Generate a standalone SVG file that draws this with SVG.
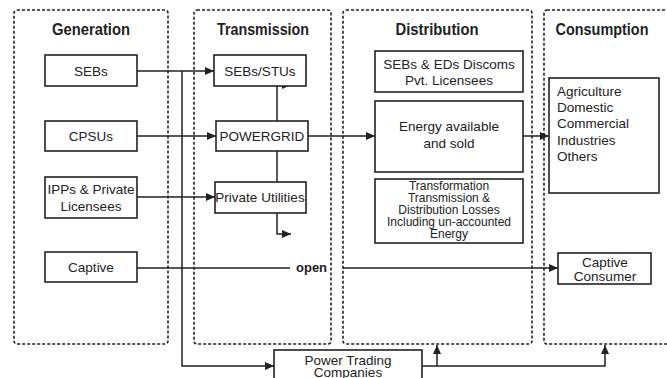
<svg xmlns="http://www.w3.org/2000/svg" width="667" height="378" viewBox="0 0 667 378">
<style>
.panel{fill:none;stroke:#222;stroke-width:1.6;stroke-dasharray:3 2}
.box{fill:#fff;stroke:#222;stroke-width:1.6}
.t{font-family:"Liberation Sans",Arial,sans-serif;font-size:13.5px;fill:#222;text-anchor:middle}
.s{font-family:"Liberation Sans",Arial,sans-serif;font-size:12px;fill:#222;text-anchor:middle}
.l{font-family:"Liberation Sans",Arial,sans-serif;font-size:13.5px;fill:#222}
.h{font-family:"Liberation Sans",Arial,sans-serif;font-size:17px;font-weight:bold;fill:#222;text-anchor:middle}
.c{fill:none;stroke:#222;stroke-width:1.5}
</style>
<defs>
<marker id="a" markerUnits="userSpaceOnUse" markerWidth="10" markerHeight="10" refX="9" refY="4" orient="auto">
<path d="M0,0 L9,4 L0,8 Z" fill="#222"/>
</marker>
</defs>
<g id="panels">
<rect class="panel" x="14" y="10" width="154" height="334" rx="3"/>
<rect class="panel" x="194" y="10" width="137" height="334" rx="3"/>
<rect class="panel" x="343" y="10" width="189" height="334" rx="3"/>
<rect class="panel" x="544" y="10" width="130" height="334" rx="3"/>
<text class="h" x="91" y="35" textLength="78" lengthAdjust="spacingAndGlyphs">Generation</text>
<text class="h" x="263" y="35" textLength="92" lengthAdjust="spacingAndGlyphs">Transmission</text>
<text class="h" x="437" y="35" textLength="83" lengthAdjust="spacingAndGlyphs">Distribution</text>
<text class="h" x="602" y="35" textLength="93" lengthAdjust="spacingAndGlyphs">Consumption</text>
</g>
<g id="connectors">
<path class="c" d="M137,71 H214" marker-end="url(#a)"/>
<path class="c" d="M137,136 H216" marker-end="url(#a)"/>
<path class="c" d="M137,197 H215" marker-end="url(#a)"/>
<path class="c" d="M182,71 V366 H274" marker-end="url(#a)"/>
<path class="c" d="M277,121 V85 H291" marker-end="url(#a)"/>
<path class="c" d="M277,151 V182"/>
<path class="c" d="M277,213 V234 H291" marker-end="url(#a)"/>
<path class="c" d="M308,136 H375" marker-end="url(#a)"/>
<path class="c" d="M523,136 H549" marker-end="url(#a)"/>
<path class="c" d="M137,268 H290"/>
<path class="c" d="M343,268 H558" marker-end="url(#a)"/>
<text x="296" y="272" font-family="Liberation Sans,Arial,sans-serif" font-size="13" font-weight="bold" fill="#222">open</text>
<path class="c" d="M422,366 H605 V345" marker-end="url(#a)"/>
<path class="c" d="M437,366 V345" marker-end="url(#a)"/>
</g>
<g id="seb"><rect class="box" x="45" y="55" width="92" height="31"/><text class="t" x="91" y="76">SEBs</text></g>
<g id="cpsu"><rect class="box" x="45" y="121" width="92" height="30"/><text class="t" x="91" y="141">CPSUs</text></g>
<g id="ipp"><rect class="box" x="45" y="177" width="92" height="41"/><text class="t" x="91" y="194">IPPs &amp; Private</text><text class="t" x="91" y="211">Licensees</text></g>
<g id="captive"><rect class="box" x="45" y="252" width="92" height="30"/><text class="t" x="91" y="272">Captive</text></g>
<g id="sebstu"><rect class="box" x="214" y="55" width="92" height="31"/><text class="t" x="260" y="76">SEBs/STUs</text></g>
<g id="powergrid"><rect class="box" x="216" y="121" width="92" height="30"/><text class="t" x="262" y="141">POWERGRID</text></g>
<g id="private"><rect class="box" x="215" y="182" width="91" height="31"/><text class="t" x="260" y="202">Private Utilities</text></g>
<g id="discoms"><rect class="box" x="375" y="51" width="148" height="41"/><text class="t" x="449" y="69">SEBs &amp; EDs Discoms</text><text class="t" x="449" y="85">Pvt. Licensees</text></g>
<g id="energy"><rect class="box" x="375" y="101" width="148" height="71"/><text class="t" x="449" y="131">Energy available</text><text class="t" x="449" y="148">and sold</text></g>
<g id="losses"><rect class="box" x="375" y="179" width="148" height="64"/><text class="s" x="449" y="190">Transformation</text><text class="s" x="449" y="202">Transmission &amp;</text><text class="s" x="449" y="214">Distribution Losses</text><text class="s" x="449" y="226">Including un-accounted</text><text class="s" x="449" y="238">Energy</text></g>
<g id="consumers"><rect class="box" x="549" y="78" width="110" height="115"/><text class="l" x="557" y="96">Agriculture</text><text class="l" x="557" y="112">Domestic</text><text class="l" x="557" y="128">Commercial</text><text class="l" x="557" y="145">Industries</text><text class="l" x="557" y="161">Others</text></g>
<g id="captiveconsumer"><rect class="box" x="558" y="253" width="93" height="31"/><text class="t" x="605" y="267">Captive</text><text class="t" x="605" y="281">Consumer</text></g>
<g id="trading"><rect class="box" x="274" y="350" width="148" height="40"/><text class="t" x="348" y="365">Power Trading</text><text class="t" x="348" y="377">Companies</text></g>
</svg>
